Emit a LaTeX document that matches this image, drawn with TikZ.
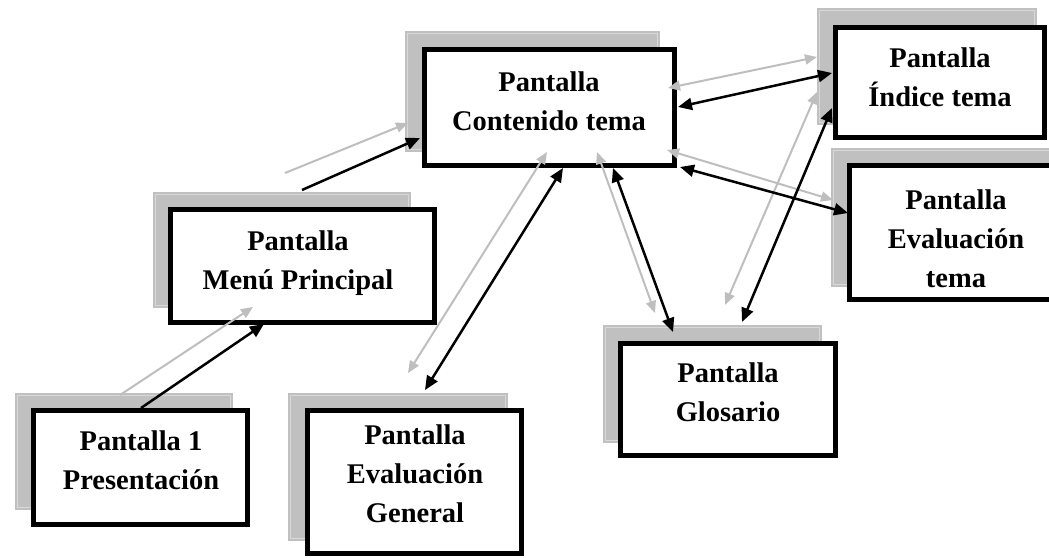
\documentclass[tikz,border=0pt]{standalone}
\usepackage{fontspec}
\setmainfont{Liberation Serif}
\usetikzlibrary{arrows.meta,fit}
\definecolor{shade}{HTML}{C0C0C0}
\definecolor{shadeline}{HTML}{D8D8D8}
\definecolor{garrow}{HTML}{BEBEBE}
\begin{document}
\begin{tikzpicture}[x=1pt,y=-1pt,
  shadowbox/.style={fill=shade, inner sep=0pt, outer sep=0pt,
    path picture={\draw[shadeline,line width=0.9pt]
      ([shift={(2.5pt,-2.5pt)}]path picture bounding box.north west) rectangle
      ([shift={(-2.5pt,2.5pt)}]path picture bounding box.south east);}},
  screenbox/.style={draw=black, fill=white, line width=5.5pt, inner sep=0pt, outer sep=0pt},
  label/.style={font=\bfseries\fontsize{28.5}{39}\selectfont, align=center, inner sep=0pt, anchor=base},
  blk/.style={line width=2.5pt, black},
  gry/.style={line width=2pt, garrow},
  btip/.style={-{Triangle[length=14pt,width=12pt]}},
  bboth/.style={{Triangle[length=14pt,width=12pt]}-{Triangle[length=14pt,width=12pt]}},
  gtip/.style={-{Triangle[length=12pt,width=10pt]}},
  gboth/.style={{Triangle[length=12pt,width=10pt]}-{Triangle[length=12pt,width=10pt]}}
]
\useasboundingbox (0,0) rectangle (1049,557);

% shadows
\node[shadowbox, fit={(15,393) (233,510)}] (s1) {};
\node[shadowbox, fit={(153,192) (411,308)}] (s2) {};
\node[shadowbox, fit={(405,31) (660,152)}] (s3) {};
\node[shadowbox, fit={(817,8) (1037,125)}] (s4) {};
\node[shadowbox, fit={(831,148) (1058,287)}] (s5) {};
\node[shadowbox, fit={(603,325) (822,443)}] (s6) {};
\node[shadowbox, fit={(288,393) (508,541)}] (s7) {};

% boxes
\node[screenbox, fit={(33.5,410.5) (247.5,524.5)}] (b1) {};
\node[screenbox, fit={(170.5,209.5) (434.5,322.5)}] (b2) {};
\node[screenbox, fit={(424.5,49.5) (674.5,165.5)}] (b3) {};
\node[screenbox, fit={(835.5,27.5) (1044.5,137.5)}] (b4) {};
\node[screenbox, fit={(849.5,165.5) (1056,299.5)}] (b5) {};
\node[screenbox, fit={(620.5,343.5) (835.5,455.5)}] (b6) {};
\node[screenbox, fit={(307.5,410.5) (521.5,553.5)}] (b7) {};

% texts (anchor = baseline of the last line)
\node[label] (t1) at (141,489) {Pantalla 1\\Presentación};
\node[label] (t2) at (298,289) {Pantalla\\Menú Principal};
\node[label] (t3) at (549,130) {Pantalla\\Contenido tema};
\node[label] (t4) at (940,106) {Pantalla\\Índice tema};
\node[label] (t5) at (956,287) {Pantalla\\Evaluación\\tema};
\node[label] (t6) at (728,421) {Pantalla\\Glosario};
\node[label] (t7) at (415,522) {Pantalla\\Evaluación\\General};

% arrow end points
\coordinate (p1g) at (120,395);  \coordinate (m1g) at (253,307);
\coordinate (p1b) at (141,408);  \coordinate (m1b) at (264,324);
\coordinate (m2g) at (285,173);  \coordinate (c2g) at (408,123);
\coordinate (m2b) at (302,190);  \coordinate (c2b) at (420,138);
\coordinate (cEg) at (547,152);  \coordinate (eGg) at (408,373);
\coordinate (cEb) at (563,168);  \coordinate (eGb) at (425,390);
\coordinate (cGg) at (597,152);  \coordinate (gCg) at (655,313);
\coordinate (cGb) at (613,168);  \coordinate (gCb) at (673,332);
\coordinate (iGg) at (817,92);   \coordinate (gIg) at (725,305);
\coordinate (iGb) at (832,108);  \coordinate (gIb) at (742,322);
\coordinate (cIg) at (668,88);   \coordinate (iCg) at (817,57);
\coordinate (cIb) at (678,107);  \coordinate (iCb) at (832,73);
\coordinate (cTg) at (667,150);  \coordinate (tCg) at (833,200);
\coordinate (cTb) at (680,167);  \coordinate (tCb) at (848,213);

% gray connectors
\draw[gry,gtip] (p1g) -- (m1g);
\draw[gry,gtip] (m2g) -- (c2g);
\draw[gry,gboth] (cEg) -- (eGg);
\draw[gry,gboth] (cGg) -- (gCg);
\draw[gry,gboth] (iGg) -- (gIg);
\draw[gry,gboth] (cIg) -- (iCg);
\draw[gry,gboth] (cTg) -- (tCg);

% black connectors
\draw[blk,btip] (p1b) -- (m1b);
\draw[blk,btip] (m2b) -- (c2b);
\draw[blk,bboth] (cEb) -- (eGb);
\draw[blk,bboth] (cGb) -- (gCb);
\draw[blk,bboth] (iGb) -- (gIb);
\draw[blk,bboth] (cIb) -- (iCb);
\draw[blk,bboth] (cTb) -- (tCb);
\end{tikzpicture}
\end{document}
